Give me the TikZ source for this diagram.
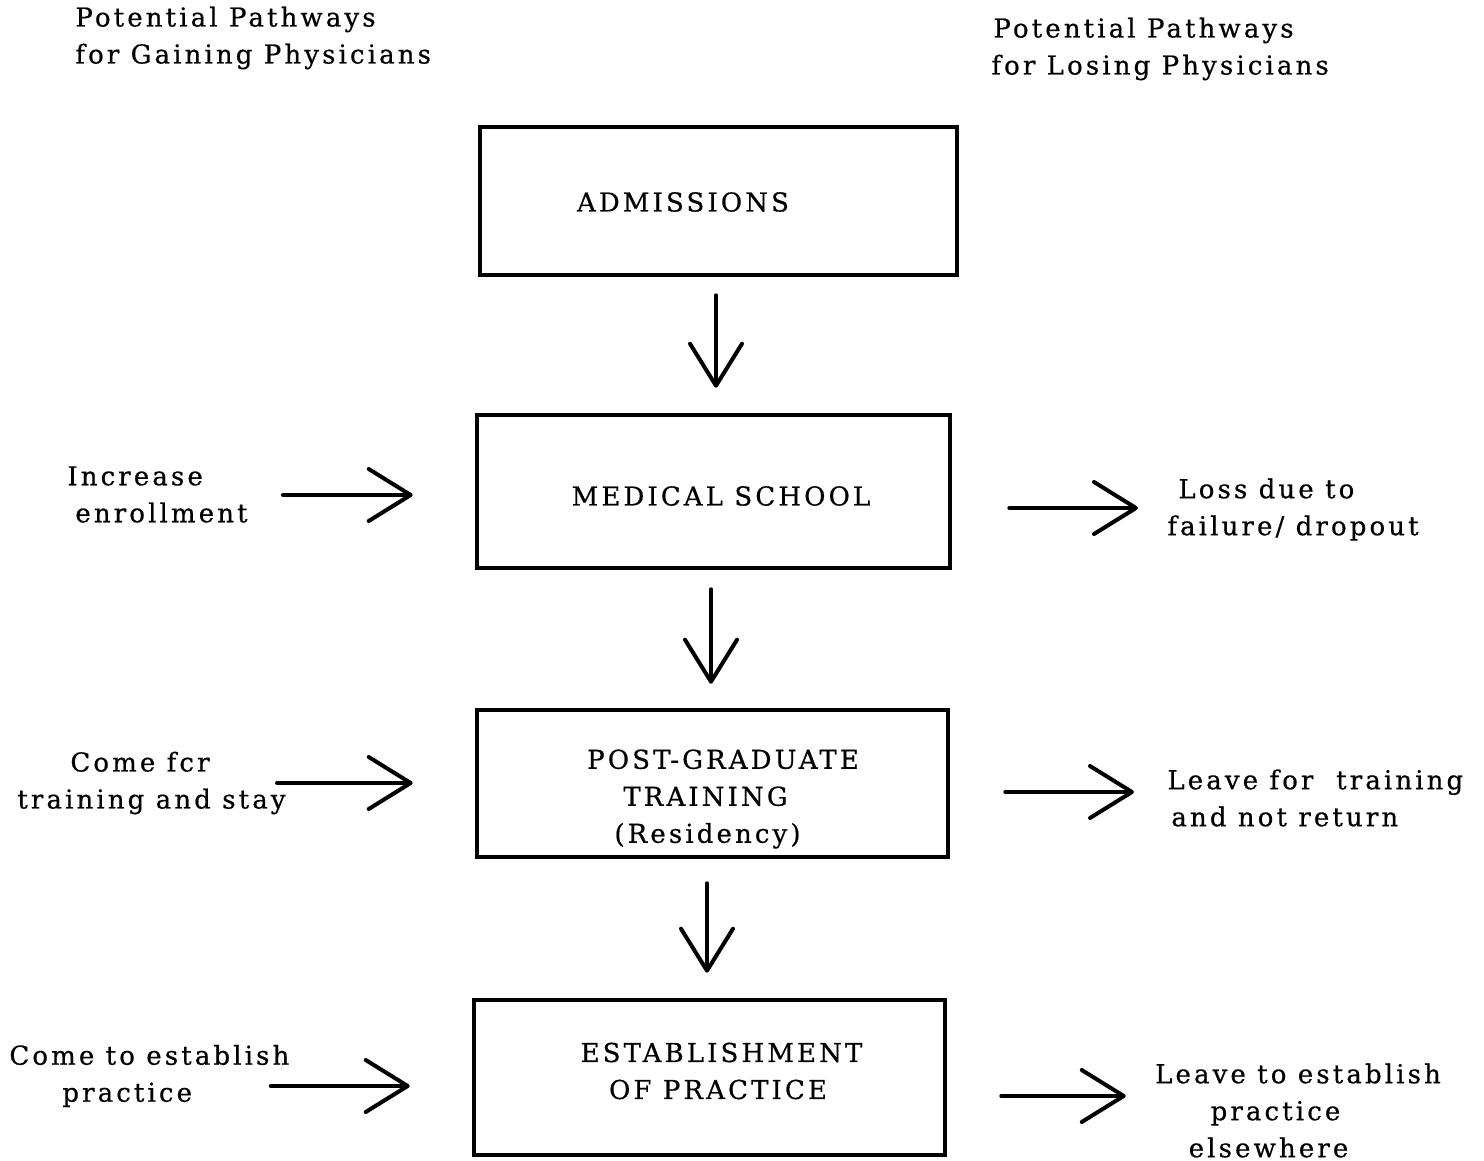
\documentclass[tikz,border=0pt]{standalone}
\usepackage{fontspec}
\setmainfont{DejaVu Serif}[LetterSpace=12,FakeBold=0.6]
\usetikzlibrary{arrows.meta,calc}
\tikzset{
  box/.style={draw, line width=2.3pt, inner sep=0pt},
  lbl/.style={inner sep=0pt, font=\fontsize{13}{18.5}\selectfont},
  arr/.style={line width=2pt, line cap=round,
    -{Straight Barb[length=21pt,width=26pt,round]}},
}
\begin{document}
\begin{tikzpicture}[x=0.5pt,y=-0.5pt]
\useasboundingbox (0,0) rectangle (1484,1161);

% headers
\node[lbl, align=left, anchor=west] (gain) at (75,38)
  {Potential Pathways\\for Gaining Physicians};
\node[lbl, align=left, anchor=west] (lose) at (991,49)
  {\kern1pt Potential Pathways\\for Losing Physicians};

% boxes
\node[box, minimum width=238.5pt, minimum height=74pt,
  label={[lbl, xshift=-17.75pt, yshift=-0.5pt]center:ADMISSIONS}] (adm) at (718.5,201) {};
\node[box, minimum width=236.5pt, minimum height=76.5pt,
  label={[lbl, xshift=3.75pt, yshift=-2.25pt]center:MEDICAL SCHOOL}] (med) at (713.5,491.5) {};
\node[box, minimum width=235.5pt, minimum height=73.5pt,
  label={[lbl, align=center, xshift=5.25pt, yshift=-7.75pt]center:POST-GRADUATE\\TRAINING\kern17.5pt\\(Residency)\kern15.5pt}] (pg) at (712.5,783.5) {};
\node[box, minimum width=235.5pt, minimum height=77.5pt,
  label={[lbl, align=center, xshift=6pt, yshift=3.25pt]center:ESTABLISHMENT\\OF PRACTICE\kern3.5pt}] (est) at (709.5,1077.5) {};

% left texts
\node[lbl, align=left, anchor=west] (inc) at (67,494.5)
  {Increase\\\kern4pt enrollment};
\node[lbl, align=center] (cft) at (151.5,783)
  {Come fcr\kern11.5pt\\training and stay};
\node[lbl, align=left, anchor=west] (cte) at (9,1076)
  {Come to establish\\\kern26.5pt practice};

% right texts
\node[lbl, align=left, anchor=west] (loss) at (1167,509.5)
  {\kern5.5pt Loss due to\\failure/ dropout};
\node[lbl, align=left, anchor=west] (lft) at (1167,798)
  {Leave for\ \ training\\\kern2pt and not return};
\node[lbl, align=center] (lte) at (1298,1110.5)
  {Leave to establish\\practice\kern22.5pt\\elsewhere\kern29.5pt};

% helper coordinates for arrow alignment
\coordinate (d1) at (716,0);
\coordinate (d2) at (711,0);
\coordinate (d3) at (707,0);
\coordinate (l1) at (0,495);
\coordinate (l2) at (0,783);
\coordinate (l3) at (0,1086);
\coordinate (r1) at (0,508);
\coordinate (r2) at (0,792);
\coordinate (r3) at (0,1096);

% down arrows
\draw[arr, shorten <=9pt, shorten >=12.5pt] (adm.south -| d1) -- (med.north -| d1);
\draw[arr, shorten <=9.5pt, shorten >=12pt] (med.south -| d2) -- (pg.north -| d2);
\draw[arr, shorten <=12pt, shorten >=12.5pt] (pg.south -| d3) -- (est.north -| d3);

% left arrows
\draw[arr, shorten <=17.5pt, shorten >=31pt] (inc.east |- l1) -- (med.west |- l1);
\draw[arr, shorten <=-4.5pt, shorten >=31pt] (cft.east |- l2) -- (pg.west |- l2);
\draw[arr, shorten <=-9.5pt, shorten >=31pt] (cte.east |- l3) -- (est.west |- l3);

% right arrows
\draw[arr, shorten <=28.5pt, shorten >=14.5pt] (med.east |- r1) -- (loss.west |- r1);
\draw[arr, shorten <=27.5pt, shorten >=16.5pt] (pg.east |- r2) -- (lft.west |- r2);
\draw[arr, shorten <=27pt, shorten >=14.5pt] (est.east |- r3) -- (lte.west |- r3);
\end{tikzpicture}
\end{document}
